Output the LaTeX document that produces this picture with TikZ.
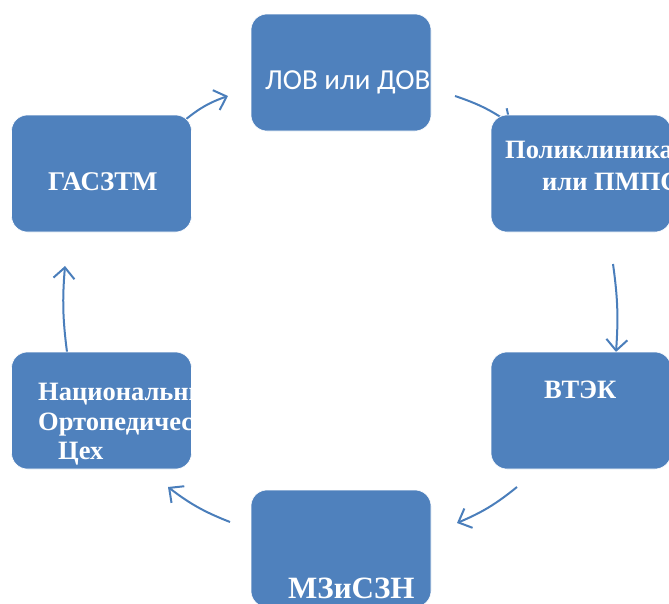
\documentclass[tikz,border=0pt]{standalone}
\usepackage{fontspec}
\setmainfont{Liberation Serif}
\newfontfamily\calibri{Carlito}
\usepackage{xcolor}
\usepackage{tikz}
\usetikzlibrary{arrows.meta,positioning,calc}
\definecolor{boxblue}{HTML}{4F81BD}
\definecolor{arrblue}{HTML}{4A7EBB}

\begin{document}
\begin{tikzpicture}[x=1pt,y=-1pt,
    box/.style={rectangle, rounded corners=16pt, fill=boxblue, draw=white, line width=0.6pt,
        minimum width=180pt, minimum height=117pt, inner sep=0pt},
    lbl/.style={text=white, font=\bfseries\fontsize{26.5}{32}\selectfont, anchor=base west, inner sep=0pt},
    arr/.style={arrblue, line width=2pt, -{Straight Barb[length=11pt,width=21pt]}}]
    \useasboundingbox (0,0) rectangle (669,603);

    % Arrow ends (arrows go under the boxes)
    \coordinate (gasout) at (185,120);  \coordinate (lovin) at (228,96);
    \coordinate (lovout) at (455,96);   \coordinate (polin) at (511,124);
    \coordinate (polout) at (613,264);  \coordinate (vtekin) at (616,352);
    \coordinate (vtekout) at (517,487); \coordinate (mznin) at (457,523);
    \coordinate (mznout) at (230,522);  \coordinate (nacin) at (168,487);
    \coordinate (nacout) at (67,352);   \coordinate (gasin) at (65,266);
    \draw[arr] (gasout) to[bend left=10] (lovin);
    \draw[arr] (lovout) to[bend left=8] (polin);
    \draw[arr] (polout) to[bend left=6] (vtekin);
    \draw[arr] (vtekout) to[bend left=8] (mznin);
    \draw[arr] (mznout) to[bend left=8] (nacin);
    \draw[arr] (nacout) to[bend left=6] (gasin);

    % Boxes
    \node[box] (lov) at (341,72.5) {};
    \node[box] (pol) at (581,173.5) {};
    \node[box] (vtek) at (581,410.5) {};
    \node[box] (mzn) at (341,548.5) {};
    \node[box] (nac) at (101.5,410.5) {};
    \node[box] (gas) at (101.5,173.5) {};

    % Labels
    \node[lbl, font=\calibri\fontsize{29}{34}\selectfont] (lovt) at (265,89) {ЛОВ или ДОВ};
    \node[lbl] (polt1) at (505,158) {Поликлиника};
    \node[lbl] (polt2) at (542,190) {или ПМПС};
    \node[lbl] (vtekt) at (544,398) {ВТЭК};
    \node[lbl, font=\bfseries\fontsize{31}{37}\selectfont] (mznt) at (288,598) {МЗиСЗН};
    \node[lbl] (nact1) at (38,400) {Национальный};
    \node[lbl] (nact2) at (38,430) {Ортопедический};
    \node[lbl] (nact3) at (58,459) {Цех};
    \node[lbl, font=\bfseries\fontsize{27}{32}\selectfont] (gast) at (48,190) {ГАСЗТМ};
\end{tikzpicture}
\end{document}
